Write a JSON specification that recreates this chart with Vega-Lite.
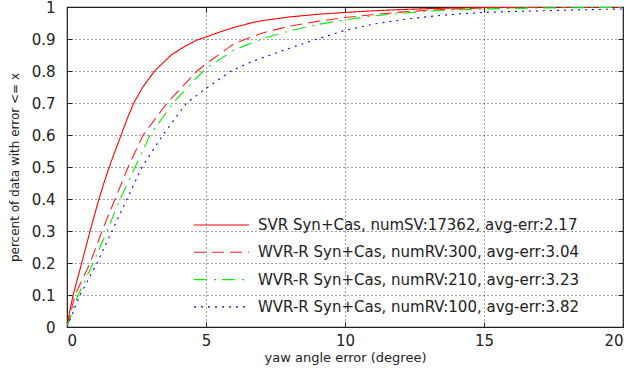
{
  "$schema": "https://vega.github.io/schema/vega-lite/v6.json",
  "width": 556,
  "height": 320,
  "autosize": {"type": "none"},
  "padding": {"left": 67, "top": 7, "right": 17, "bottom": 41},
  "background": "white",
  "config": {
    "view": {"stroke": "#222", "strokeWidth": 1.2},
    "font": "DejaVu Sans",
    "axis": {
      "domain": false,
      "labelFont": "DejaVu Sans",
      "labelFontSize": 15,
      "labelColor": "#222",
      "tickColor": "#222",
      "tickSize": -5,
      "titleFont": "DejaVu Sans",
      "titleFontWeight": "normal",
      "titleColor": "#222",
      "gridColor": "#000",
      "gridDash": [1, 3],
      "gridOpacity": 0.75,
      "gridWidth": 1
    },
    "legend": {
      "labelFont": "DejaVu Sans",
      "labelFontSize": 15,
      "labelColor": "#222"
    }
  },
  "datasets": {
    "cdf": [
      {"x": 0, "p": 0, "s": "SVR"},
      {"x": 0.1, "p": 0.05, "s": "SVR"},
      {"x": 0.22, "p": 0.1, "s": "SVR"},
      {"x": 0.53, "p": 0.2, "s": "SVR"},
      {"x": 0.83, "p": 0.3, "s": "SVR"},
      {"x": 1.15, "p": 0.4, "s": "SVR"},
      {"x": 1.33, "p": 0.45, "s": "SVR"},
      {"x": 1.52, "p": 0.5, "s": "SVR"},
      {"x": 1.73, "p": 0.55, "s": "SVR"},
      {"x": 1.95, "p": 0.6, "s": "SVR"},
      {"x": 2.16, "p": 0.65, "s": "SVR"},
      {"x": 2.4, "p": 0.7, "s": "SVR"},
      {"x": 2.73, "p": 0.75, "s": "SVR"},
      {"x": 3.15, "p": 0.8, "s": "SVR"},
      {"x": 3.75, "p": 0.85, "s": "SVR"},
      {"x": 4.2, "p": 0.875, "s": "SVR"},
      {"x": 4.68, "p": 0.897, "s": "SVR"},
      {"x": 5, "p": 0.906, "s": "SVR"},
      {"x": 5.5, "p": 0.922, "s": "SVR"},
      {"x": 6, "p": 0.936, "s": "SVR"},
      {"x": 6.6, "p": 0.95, "s": "SVR"},
      {"x": 7, "p": 0.957, "s": "SVR"},
      {"x": 8, "p": 0.969, "s": "SVR"},
      {"x": 9, "p": 0.977, "s": "SVR"},
      {"x": 10, "p": 0.983, "s": "SVR"},
      {"x": 11, "p": 0.988, "s": "SVR"},
      {"x": 12, "p": 0.992, "s": "SVR"},
      {"x": 13, "p": 0.995, "s": "SVR"},
      {"x": 14, "p": 0.997, "s": "SVR"},
      {"x": 15, "p": 0.998, "s": "SVR"},
      {"x": 16, "p": 0.999, "s": "SVR"},
      {"x": 18, "p": 1, "s": "SVR"},
      {"x": 20, "p": 1, "s": "SVR"},

      {"x": 0, "p": 0, "s": "R300"},
      {"x": 0.29, "p": 0.1, "s": "R300"},
      {"x": 0.83, "p": 0.2, "s": "R300"},
      {"x": 1.26, "p": 0.3, "s": "R300"},
      {"x": 1.73, "p": 0.4, "s": "R300"},
      {"x": 2.2, "p": 0.5, "s": "R300"},
      {"x": 2.74, "p": 0.6, "s": "R300"},
      {"x": 3.6, "p": 0.7, "s": "R300"},
      {"x": 4.68, "p": 0.8, "s": "R300"},
      {"x": 5, "p": 0.822, "s": "R300"},
      {"x": 6, "p": 0.885, "s": "R300"},
      {"x": 7, "p": 0.918, "s": "R300"},
      {"x": 8, "p": 0.94, "s": "R300"},
      {"x": 9, "p": 0.955, "s": "R300"},
      {"x": 10, "p": 0.967, "s": "R300"},
      {"x": 11, "p": 0.976, "s": "R300"},
      {"x": 12, "p": 0.984, "s": "R300"},
      {"x": 13, "p": 0.99, "s": "R300"},
      {"x": 14, "p": 0.994, "s": "R300"},
      {"x": 15, "p": 0.997, "s": "R300"},
      {"x": 17, "p": 0.999, "s": "R300"},
      {"x": 20, "p": 1, "s": "R300"},

      {"x": 0, "p": 0, "s": "R210"},
      {"x": 0.4, "p": 0.1, "s": "R210"},
      {"x": 0.94, "p": 0.2, "s": "R210"},
      {"x": 1.44, "p": 0.3, "s": "R210"},
      {"x": 1.91, "p": 0.4, "s": "R210"},
      {"x": 2.45, "p": 0.5, "s": "R210"},
      {"x": 2.99, "p": 0.6, "s": "R210"},
      {"x": 3.81, "p": 0.7, "s": "R210"},
      {"x": 4.9, "p": 0.8, "s": "R210"},
      {"x": 5, "p": 0.808, "s": "R210"},
      {"x": 6, "p": 0.865, "s": "R210"},
      {"x": 7, "p": 0.9, "s": "R210"},
      {"x": 8, "p": 0.925, "s": "R210"},
      {"x": 9, "p": 0.945, "s": "R210"},
      {"x": 10, "p": 0.96, "s": "R210"},
      {"x": 11, "p": 0.972, "s": "R210"},
      {"x": 12, "p": 0.98, "s": "R210"},
      {"x": 13, "p": 0.987, "s": "R210"},
      {"x": 14, "p": 0.991, "s": "R210"},
      {"x": 15, "p": 0.994, "s": "R210"},
      {"x": 17, "p": 0.997, "s": "R210"},
      {"x": 20, "p": 0.999, "s": "R210"},

      {"x": 0, "p": 0, "s": "R100"},
      {"x": 0.47, "p": 0.1, "s": "R100"},
      {"x": 1.08, "p": 0.2, "s": "R100"},
      {"x": 1.62, "p": 0.3, "s": "R100"},
      {"x": 2.16, "p": 0.4, "s": "R100"},
      {"x": 2.7, "p": 0.5, "s": "R100"},
      {"x": 3.45, "p": 0.6, "s": "R100"},
      {"x": 4.3, "p": 0.7, "s": "R100"},
      {"x": 5, "p": 0.745, "s": "R100"},
      {"x": 5.9, "p": 0.8, "s": "R100"},
      {"x": 6.6, "p": 0.828, "s": "R100"},
      {"x": 7.8, "p": 0.865, "s": "R100"},
      {"x": 9, "p": 0.9, "s": "R100"},
      {"x": 10, "p": 0.927, "s": "R100"},
      {"x": 11, "p": 0.946, "s": "R100"},
      {"x": 12, "p": 0.96, "s": "R100"},
      {"x": 13, "p": 0.97, "s": "R100"},
      {"x": 14, "p": 0.978, "s": "R100"},
      {"x": 15, "p": 0.983, "s": "R100"},
      {"x": 16, "p": 0.986, "s": "R100"},
      {"x": 17.5, "p": 0.989, "s": "R100"},
      {"x": 19.5, "p": 0.993, "s": "R100"},
      {"x": 20, "p": 0.994, "s": "R100"}
    ]
  },
  "data": {"name": "cdf"},
  "resolve": {"axis": {"x": "independent", "y": "independent"}},
  "layer": [
    {
      "mark": {"type": "line", "strokeWidth": 1.1, "clip": true},
      "encoding": {
        "x": {
          "field": "x", "type": "quantitative",
          "scale": {"domain": [0, 20], "nice": false},
          "axis": {"values": [0, 5, 10, 15, 20], "grid": true, "title": "yaw angle error (degree)", "titleFontSize": 13, "labelPadding": 11, "titlePadding": 3}
        },
        "y": {
          "field": "p", "type": "quantitative",
          "scale": {"domain": [0, 1], "nice": false},
          "axis": {"values": [0, 0.1, 0.2, 0.3, 0.4, 0.5, 0.6, 0.7, 0.8, 0.9, 1], "format": ".1~f", "grid": true, "title": "percent of data with error <= x", "titleFontSize": 12, "labelPadding": 17, "titlePadding": 10}
        },
        "color": {
          "field": "s", "type": "nominal",
          "scale": {"domain": ["SVR", "R300", "R210", "R100"], "range": ["#ff0000", "#ff2020", "#00ee00", "#0000ff"]},
          "legend": {
            "title": null,
            "orient": "none",
            "legendX": 142.5,
            "legendY": 206,
            "padding": 0,
            "symbolType": "M-2.5,0H2.5",
            "symbolSize": 484,
            "symbolStrokeWidth": 1.1,
            "labelOffset": 24.5,
            "labelLimit": 400,
            "rowPadding": 7.3,
            "labelExpr": "datum.value == 'SVR' ? 'SVR Syn+Cas, numSV:17362, avg-err:2.17' : datum.value == 'R300' ? 'WVR-R Syn+Cas, numRV:300, avg-err:3.04' : datum.value == 'R210' ? 'WVR-R Syn+Cas, numRV:210, avg-err:3.23' : 'WVR-R Syn+Cas, numRV:100, avg-err:3.82'"
          }
        },
        "strokeDash": {
          "field": "s", "type": "nominal",
          "scale": {"domain": ["SVR", "R300", "R210", "R100"], "range": [[1, 0], [12, 6], [13, 7, 2, 6], [2, 5]]},
          "legend": {
            "title": null,
            "orient": "none",
            "legendX": 142.5,
            "legendY": 206,
            "padding": 0,
            "symbolType": "M-2.5,0H2.5",
            "symbolSize": 484,
            "symbolStrokeWidth": 1.1,
            "labelOffset": 24.5,
            "labelLimit": 400,
            "rowPadding": 7.3,
            "labelExpr": "datum.value == 'SVR' ? 'SVR Syn+Cas, numSV:17362, avg-err:2.17' : datum.value == 'R300' ? 'WVR-R Syn+Cas, numRV:300, avg-err:3.04' : datum.value == 'R210' ? 'WVR-R Syn+Cas, numRV:210, avg-err:3.23' : 'WVR-R Syn+Cas, numRV:100, avg-err:3.82'"
          }
        }
      }
    },
    {
      "mark": {"type": "point", "opacity": 0},
      "encoding": {
        "x": {
          "field": "x", "type": "quantitative",
          "axis": {"orient": "top", "values": [0, 5, 10, 15, 20], "labels": false, "title": null, "grid": false}
        },
        "y": {
          "field": "p", "type": "quantitative",
          "axis": {"orient": "right", "values": [0, 0.1, 0.2, 0.3, 0.4, 0.5, 0.6, 0.7, 0.8, 0.9, 1], "labels": false, "title": null, "grid": false}
        }
      }
    }
  ]
}
